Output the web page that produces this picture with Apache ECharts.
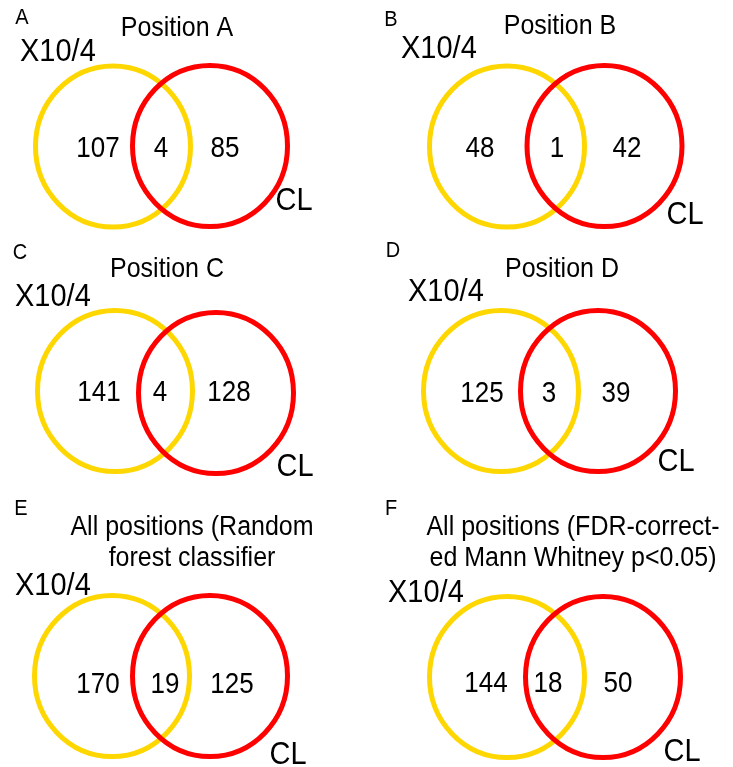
<!DOCTYPE html>
<html>
<head>
<meta charset="utf-8">
<script src="https://cdn.jsdelivr.net/npm/echarts@6/dist/echarts.min.js"></script>
<style>
html,body{margin:0;padding:0;background:#fff;}
#chart{width:733px;height:767px;}
</style>
</head>
<body>
<div id="chart"></div>
<script>
// ---- data ----
const panelLetters = ['A', 'B', 'C', 'D', 'E', 'F'];
const panelTitles = [
  'Position A',
  'Position B',
  'Position C',
  'Position D',
  'All positions (Random\nforest classifier',
  'All positions (FDR-correct-\ned Mann Whitney p<0.05)'
];
const setNames = ['X10/4', 'CL'];
const onlyX10 = [107, 48, 141, 125, 170, 144];
const shared = [4, 1, 4, 3, 19, 18];
const onlyCL = [85, 42, 128, 39, 125, 50];

// ---- layout (page units, 1 unit = 1 px) ----
const PAGE_W = 733, PAGE_H = 767;
const yellowCenters = [[113,146.5],[507,146.5],[115,391],[501,391],[112,676],[507,677]];
const redCenters = [[210,146],[604.5,146],[216,393],[598,391],[210,676],[603,677]];
const countX = [[98,161,225],[480,557,627],[99,160,229],[482,549,616],[98,165,232],[486,548,618]];
const countY = [149,149,393,394,685,684];
const letterPos = [[22,18],[391,20],[20,253],[393,251],[21,509],[391,509]];
const titlePos = [[177,28],[560,26],[167,269],[562,269],[192,543],[573,543]];
const x10Pos = [[20,52],[401,49],[15,297],[408,292],[15,586],[388,593]];
const clPos = [[294,201],[685,215],[295,467],[676,462],[288,755],[682,752]];
const RX = 77.5, RY = 80.5;
const FONT = '"Liberation Sans", Arial, sans-serif';
const YELLOW = '#FFD700', RED = '#FF0000';
const TEXT_SCALE_Y = 1.1;

// circles: yellow first, red on top
const circleData = [];
yellowCenters.forEach(c => circleData.push([c[0], c[1], 0]));
redCenters.forEach(c => circleData.push([c[0], c[1], 1]));

const countData = [];
for (let i = 0; i < 6; i++) {
  const vals = [onlyX10[i], shared[i], onlyCL[i]];
  for (let k = 0; k < 3; k++) countData.push([countX[i][k], countY[i], vals[k]]);
}

// text annotations: [x, y, kind, panel]
const textData = [];
for (let i = 0; i < 6; i++) {
  textData.push([letterPos[i][0], letterPos[i][1], 0, i]);
  textData.push([titlePos[i][0], titlePos[i][1], 1, i]);
  textData.push([x10Pos[i][0], x10Pos[i][1], 2, i]);
  textData.push([clPos[i][0], clPos[i][1], 3, i]);
}

const chart = echarts.init(document.getElementById('chart'));
chart.setOption({
  backgroundColor: '#fff',
  animation: false,
  grid: { left: 0, top: 0, right: 0, bottom: 0 },
  xAxis: { type: 'value', min: 0, max: PAGE_W, show: false },
  yAxis: { type: 'value', min: 0, max: PAGE_H, inverse: true, show: false },
  series: [
    {
      type: 'custom',
      data: circleData,
      renderItem: function (params, api) {
        const p = api.coord([api.value(0), api.value(1)]);
        const s = api.size([RX, RY]);
        return {
          type: 'ellipse',
          shape: { cx: p[0], cy: p[1], rx: s[0], ry: s[1] },
          style: { fill: 'none', stroke: api.value(2) === 0 ? YELLOW : RED, lineWidth: 5 }
        };
      }
    },
    {
      type: 'custom',
      data: countData,
      renderItem: function (params, api) {
        const p = api.coord([api.value(0), api.value(1)]);
        return {
          type: 'text',
          x: p[0], y: p[1], scaleY: TEXT_SCALE_Y,
          style: {
            text: String(api.value(2)),
            fontSize: 26, fontFamily: FONT, fill: '#000',
            align: 'center', verticalAlign: 'middle'
          }
        };
      }
    },
    {
      type: 'custom',
      data: textData,
      renderItem: function (params, api) {
        const p = api.coord([api.value(0), api.value(1)]);
        const kind = api.value(2), i = api.value(3);
        let text, size, align = 'center', lh;
        if (kind === 0) { text = panelLetters[i]; size = 20; }
        else if (kind === 1) { text = panelTitles[i]; size = 25; lh = 28; }
        else if (kind === 2) { text = setNames[0]; size = 29; align = 'left'; }
        else { text = setNames[1]; size = 29; }
        return {
          type: 'text',
          x: p[0], y: p[1], scaleY: TEXT_SCALE_Y,
          style: {
            text: text, fontSize: size, fontFamily: FONT, fill: '#000',
            align: align, verticalAlign: 'middle', lineHeight: lh || size * 1.2
          }
        };
      }
    }
  ]
});
</script>
</body>
</html>
